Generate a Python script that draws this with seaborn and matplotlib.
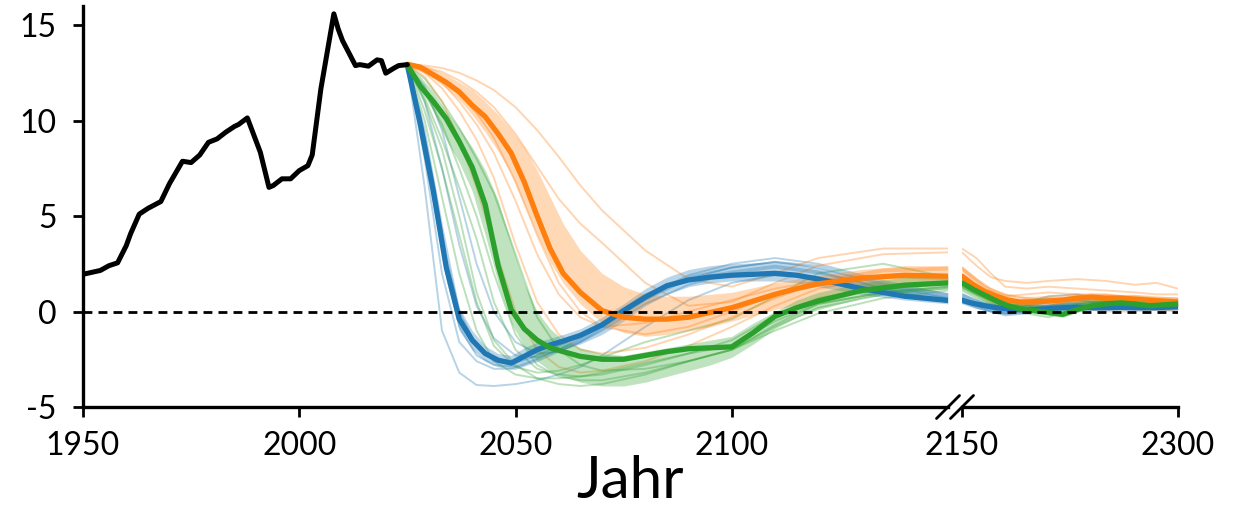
import matplotlib
matplotlib.use("Agg")
import matplotlib.pyplot as plt
import seaborn as sns

# ---------------- data ----------------
hist_years = [1950, 1954, 1956, 1958, 1960, 1961, 1963, 1965, 1968, 1970, 1973, 1975, 1977,
              1979, 1981, 1983, 1985, 1986, 1988, 1991, 1993, 1994, 1996, 1998, 2000, 2002,
              2003, 2005, 2008, 2009, 2010, 2013, 2014, 2016, 2018, 2019, 2020, 2022, 2023, 2025]
hist_vals = [1.95, 2.15, 2.4, 2.55, 3.45, 4.07, 5.1, 5.4, 5.76, 6.7, 7.87, 7.8, 8.2,
             8.86, 9.04, 9.39, 9.69, 9.8, 10.14, 8.34, 6.5, 6.6, 6.95, 6.95, 7.38, 7.64,
             8.2, 11.66, 15.59, 14.8, 14.19, 12.88, 12.93, 12.85, 13.18, 13.14, 12.48, 12.76, 12.88, 12.93]

# scenario grid (left panel)
years_L = [2025, 2028, 2031, 2034, 2037, 2040, 2043, 2046, 2049, 2052, 2055, 2058, 2061, 2065,
           2070, 2075, 2080, 2085, 2090, 2095, 2100, 2105, 2110, 2115, 2120, 2130, 2140, 2150]

blue_mid = [12.9, 9.8, 6.3, 2.3, -0.4, -1.5, -2.2, -2.55, -2.7, -2.35, -2.0, -1.75, -1.55, -1.25,
            -0.7, 0.05, 0.75, 1.35, 1.65, 1.8, 1.9, 1.95, 2.0, 1.9, 1.7, 1.2, 0.8, 0.58]
blue_lo = [12.9, 9.0, 5.5, 1.6, -1.0, -2.0, -2.6, -2.9, -3.0, -2.8, -2.5, -2.2, -2.0, -1.7,
           -1.2, -0.5, 0.3, 0.9, 1.3, 1.5, 1.6, 1.6, 1.6, 1.5, 1.3, 0.9, 0.6, 0.4]
blue_hi = [12.9, 10.5, 7.0, 3.0, 0.2, -1.0, -1.8, -2.2, -2.3, -1.9, -1.6, -1.4, -1.2, -0.9,
           -0.3, 0.4, 1.2, 1.8, 2.2, 2.4, 2.5, 2.55, 2.6, 2.5, 2.3, 1.8, 1.3, 1.0]

orange_mid = [12.95, 12.8, 12.4, 12.0, 11.5, 10.8, 10.2, 9.3, 8.3, 6.8, 5.0, 3.3, 2.0, 1.0,
              0.05, -0.3, -0.4, -0.4, -0.3, -0.05, 0.2, 0.55, 0.9, 1.2, 1.45, 1.75, 1.9, 1.85]
orange_lo = [12.9, 12.6, 12.2, 11.7, 11.1, 10.3, 9.4, 8.4, 7.2, 5.6, 4.0, 2.6, 1.5, 0.4,
             -0.6, -1.1, -1.3, -1.2, -1.0, -0.8, -0.5, -0.2, 0.1, 0.35, 0.6, 1.0, 1.3, 1.4]
orange_hi = [13.0, 12.9, 12.7, 12.4, 12.0, 11.6, 11.0, 10.3, 9.5, 8.6, 7.4, 6.0, 4.6, 3.2,
             2.0, 1.3, 0.9, 0.8, 0.8, 0.9, 1.0, 1.25, 1.5, 1.7, 1.9, 2.2, 2.4, 2.4]

green_mid = [12.9, 11.8, 11.0, 10.1, 8.9, 7.55, 5.6, 2.4, 0.1, -0.9, -1.5, -1.9, -2.1, -2.35,
             -2.5, -2.5, -2.3, -2.1, -1.95, -1.9, -1.85, -1.1, -0.25, 0.2, 0.55, 1.1, 1.38, 1.5]
green_lo = [12.9, 11.7, 10.5, 9.0, 7.8, 6.3, 4.0, 1.5, -0.6, -1.8, -2.6, -3.1, -3.4, -3.7,
            -3.9, -3.9, -3.7, -3.4, -3.1, -2.8, -2.4, -1.7, -0.9, -0.3, 0.1, 0.7, 1.0, 1.2]
green_hi = [12.9, 12.3, 11.5, 10.5, 9.6, 8.6, 7.4, 5.8, 3.6, 1.5, 0.0, -0.9, -1.5, -1.9,
            -2.2, -2.3, -2.1, -1.9, -1.7, -1.5, -1.3, -0.6, 0.0, 0.6, 1.0, 1.5, 1.8, 1.9]

# individual runs (left panel)
years_T = [2025, 2029, 2033, 2037, 2041, 2045, 2050, 2055, 2060, 2065, 2070, 2080, 2090, 2100,
           2110, 2120, 2135, 2150]
blue_runs = [
    [12.9, 6.5, -1.0, -3.2, -3.85, -3.9, -3.8, -3.6, -3.3, -2.9, -2.3, -0.8, 0.6, 1.5, 1.9, 1.8, 1.2, 0.6],
    [12.9, 8.0, 2.0, -1.6, -2.6, -3.0, -3.0, -2.6, -2.1, -1.6, -1.0, 0.4, 1.4, 2.0, 2.3, 2.0, 1.3, 0.7],
    [12.9, 9.5, 4.5, 0.0, -1.8, -2.6, -2.7, -2.3, -1.8, -1.3, -0.7, 0.7, 1.8, 2.3, 2.6, 2.4, 1.5, 0.8],
    [12.9, 11.0, 7.5, 3.5, 0.3, -1.4, -2.3, -2.4, -2.0, -1.5, -0.8, 0.8, 1.9, 2.5, 2.8, 2.5, 1.6, 0.9],
    [12.9, 11.8, 9.5, 6.0, 2.5, 0.0, -1.6, -2.2, -2.1, -1.6, -0.9, 0.6, 1.7, 2.3, 2.6, 2.3, 1.4, 0.7],
    [12.9, 9.0, 3.5, -0.8, -2.3, -2.8, -2.9, -2.5, -2.0, -1.4, -0.6, 0.9, 1.7, 2.1, 2.4, 2.1, 1.2, 0.5],
]
green_runs = [
    [12.9, 10.0, 6.0, 2.0, -1.0, -2.6, -3.3, -3.5, -3.5, -3.4, -3.2, -2.7, -2.2, -1.8, -0.5, 0.4, 1.0, 1.3],
    [12.9, 11.0, 8.5, 5.0, 1.0, -1.5, -2.8, -3.5, -3.8, -3.9, -3.8, -3.3, -2.6, -2.0, -0.8, 0.2, 0.9, 1.2],
    [12.9, 11.5, 9.8, 7.5, 5.0, 2.0, -1.2, -2.8, -3.4, -3.6, -3.6, -3.2, -2.6, -2.0, -1.0, -0.1, 0.7, 1.1],
    [12.9, 12.2, 11.0, 9.6, 8.0, 6.2, 3.0, -0.3, -2.0, -2.8, -3.1, -3.0, -2.6, -2.0, -0.7, 0.4, 1.0, 1.3],
    [12.9, 11.2, 9.0, 6.5, 3.8, 0.5, -2.0, -3.0, -3.3, -3.4, -3.3, -2.8, -2.2, -1.5, -0.2, 0.7, 1.3, 1.5],
    [12.9, 10.5, 7.5, 4.0, 0.5, -1.8, -2.9, -3.2, -3.1, -2.8, -2.4, -1.6, -1.0, -0.4, 0.8, 2.0, 2.5, 1.8],
]
orange_runs = [
    [12.9, 12.3, 11.0, 9.0, 6.5, 3.5, 0.0, -2.0, -2.9, -3.2, -3.1, -2.6, -1.8, -0.8, 0.3, 1.2, 1.8, 1.9],
    [12.9, 12.5, 11.7, 10.5, 9.0, 7.0, 3.5, 0.5, -1.2, -2.0, -2.2, -1.9, -1.2, -0.3, 0.7, 1.5, 2.1, 2.2],
    [12.9, 12.7, 12.2, 11.4, 10.4, 9.1, 6.8, 4.0, 1.5, 0.0, -0.8, -1.2, -0.8, 0.0, 0.9, 1.6, 2.2, 2.3],
    [12.9, 12.8, 12.55, 12.1, 11.5, 10.7, 9.3, 7.6, 5.9, 4.6, 3.6, 1.5, 0.3, 0.5, 1.5, 2.4, 3.0, 3.1],
    [12.9, 12.88, 12.75, 12.5, 12.1, 11.6, 10.7, 9.5, 8.1, 6.6, 5.3, 3.2, 1.7, 1.3, 2.0, 2.8, 3.3, 3.3],
    [12.9, 12.6, 12.0, 11.0, 9.8, 8.3, 5.8, 3.0, 0.9, -0.3, -0.8, -0.6, 0.0, 0.6, 1.2, 1.6, 1.8, 1.7],
]

# right panel (2150-2300)
years_R = [2150, 2158, 2166, 2174, 2182, 2190, 2200, 2210, 2220, 2230, 2240, 2250, 2260, 2270,
           2280, 2290, 2300]
blue_mid_R = [0.58, 0.42, 0.3, 0.2, 0.13, 0.1, 0.1, 0.15, 0.2, 0.22, 0.2, 0.2, 0.22, 0.2, 0.2, 0.22, 0.25]
blue_lo_R = [0.4, 0.2, 0.05, -0.1, -0.15, -0.1, -0.05, 0.0, 0.05, 0.05, 0.05, 0.05, 0.05, 0.05, 0.05, 0.05, 0.1]
blue_hi_R = [1.0, 0.7, 0.5, 0.4, 0.35, 0.4, 0.45, 0.5, 0.5, 0.5, 0.45, 0.4, 0.4, 0.4, 0.4, 0.4, 0.4]
orange_mid_R = [1.85, 1.4, 1.05, 0.8, 0.6, 0.5, 0.5, 0.55, 0.6, 0.7, 0.75, 0.7, 0.7, 0.65, 0.6, 0.55, 0.5]
orange_lo_R = [1.4, 1.0, 0.7, 0.5, 0.35, 0.3, 0.3, 0.35, 0.4, 0.45, 0.5, 0.45, 0.45, 0.4, 0.4, 0.35, 0.3]
orange_hi_R = [2.4, 1.9, 1.4, 1.1, 0.9, 0.8, 0.8, 0.85, 0.9, 0.95, 1.0, 0.95, 0.9, 0.9, 0.85, 0.8, 0.75]
green_mid_R = [1.5, 1.15, 0.85, 0.55, 0.3, 0.15, 0.05, -0.05, -0.15, 0.1, 0.3, 0.4, 0.45, 0.4, 0.3, 0.35, 0.4]
green_lo_R = [1.2, 0.9, 0.6, 0.35, 0.15, 0.0, -0.1, -0.2, -0.3, -0.05, 0.15, 0.25, 0.3, 0.25, 0.2, 0.2, 0.25]
green_hi_R = [1.9, 1.4, 1.1, 0.8, 0.55, 0.45, 0.4, 0.35, 0.35, 0.45, 0.55, 0.6, 0.65, 0.6, 0.55, 0.55, 0.6]

years_T2 = [2150, 2160, 2170, 2180, 2195, 2210, 2230, 2250, 2270, 2285, 2300]
blue_runs_R = [
    [0.6, 0.3, 0.0, -0.2, -0.1, 0.2, 0.4, 0.3, 0.3, 0.2, 0.2],
    [0.7, 0.4, 0.1, 0.0, 0.3, 0.5, 0.6, 0.4, 0.3, 0.3, 0.3],
    [0.8, 0.5, 0.3, 0.1, 0.2, 0.3, 0.5, 0.5, 0.4, 0.4, 0.3],
    [0.9, 0.6, 0.3, 0.2, 0.5, 0.8, 0.9, 0.6, 0.4, 0.3, 0.4],
    [0.7, 0.4, 0.2, -0.1, 0.0, 0.3, 0.4, 0.5, 0.3, 0.3, 0.2],
    [0.5, 0.2, 0.0, -0.1, 0.1, 0.2, 0.3, 0.2, 0.2, 0.1, 0.1],
]
green_runs_R = [
    [1.3, 0.9, 0.5, 0.2, 0.0, -0.1, 0.3, 0.5, 0.4, 0.3, 0.4],
    [1.2, 0.8, 0.4, 0.1, -0.1, -0.3, 0.2, 0.4, 0.3, 0.3, 0.4],
    [1.1, 0.7, 0.4, 0.2, 0.1, 0.0, 0.4, 0.6, 0.5, 0.4, 0.5],
    [1.3, 0.9, 0.6, 0.4, 0.6, 0.7, 0.6, 0.5, 0.5, 0.4, 0.5],
    [1.5, 1.0, 0.6, 0.3, 0.3, 0.2, 0.5, 0.6, 0.5, 0.5, 0.6],
    [1.8, 1.2, 0.7, 0.4, 0.3, 0.3, 0.6, 0.7, 0.6, 0.5, 0.6],
]
orange_runs_R = [
    [1.9, 1.3, 0.9, 0.6, 0.5, 0.6, 0.7, 0.6, 0.6, 0.5, 0.5],
    [2.2, 1.6, 1.1, 0.8, 0.9, 1.0, 0.9, 0.8, 0.8, 0.7, 0.7],
    [2.3, 1.7, 1.2, 0.9, 0.7, 0.6, 0.8, 0.9, 0.7, 0.6, 0.6],
    [3.1, 2.4, 1.8, 1.6, 1.5, 1.6, 1.7, 1.6, 1.4, 1.5, 1.2],
    [3.3, 2.8, 2.0, 1.3, 1.2, 1.3, 1.2, 1.1, 1.0, 0.9, 0.9],
    [1.7, 1.0, 0.5, 0.2, 0.1, 0.1, 0.2, 0.0, 0.0, 0.1, 0.0],
]

x_ticks_L = [1950, 2000, 2050, 2100]
x_ticks_R = [2150, 2300]
y_ticks = [-5, 0, 5, 10, 15]
x_label = "Jahr"

# ---------------- style ----------------
sns.set_theme(style="ticks")
plt.rcParams["font.family"] = ["Lato", "DejaVu Sans"]
plt.rcParams["axes.unicode_minus"] = False
plt.rcParams["text.color"] = "black"

BLUE, ORANGE, GREEN = "#1f77b4", "#ff7f0e", "#2ca02c"

fig = plt.figure(figsize=(12.36, 5.12), dpi=100)
W, H = 1236, 512
axL = fig.add_axes([83 / W, 105 / H, 865 / W, 401 / H])
axR = fig.add_axes([962 / W, 105 / H, 216 / W, 401 / H])

def draw(ax, yrs_t, runs_list, yrs_m, mids, los, his):
    for runs, c in zip(runs_list, [BLUE, GREEN, ORANGE]):
        for r in runs:
            sns.lineplot(x=yrs_t, y=r, ax=ax, color=c, lw=1.4, alpha=0.32, zorder=2)
    for lo, hi, c in zip(los, his, [BLUE, ORANGE, GREEN]):
        ax.fill_between(yrs_m, lo, hi, color=c, alpha=0.3, lw=0, zorder=3)
    for m, c in zip(mids, [BLUE, ORANGE, GREEN]):
        sns.lineplot(x=yrs_m, y=m, ax=ax, color=c, lw=3.8, zorder=5)

draw(axL, years_T, [blue_runs, green_runs, orange_runs], years_L,
     [blue_mid, orange_mid, green_mid], [blue_lo, orange_lo, green_lo], [blue_hi, orange_hi, green_hi])
draw(axR, years_T2, [blue_runs_R, green_runs_R, orange_runs_R], years_R,
     [blue_mid_R, orange_mid_R, green_mid_R], [blue_lo_R, orange_lo_R, green_lo_R],
     [blue_hi_R, orange_hi_R, green_hi_R])

sns.lineplot(x=hist_years, y=hist_vals, ax=axL, color="black", lw=3.6, zorder=6)

for ax in (axL, axR):
    ax.axhline(0, color="black", ls=(0, (3.2, 2.2)), lw=2.0, zorder=7)
    ax.set_ylim(-5, 16)
    ax.spines["top"].set_visible(False)
    ax.spines["right"].set_visible(False)
    ax.spines["bottom"].set_linewidth(2.4)
    ax.spines["left"].set_linewidth(2.4)
    ax.spines["bottom"].set_color("black")
    ax.spines["left"].set_color("black")
    ax.tick_params(axis="x", length=7, width=2, labelsize=23, colors="black", pad=10)
    ax.tick_params(axis="y", length=7, width=2, labelsize=23, colors="black", pad=12)
    ax.set_xlabel("")
    ax.set_ylabel("")

axL.set_xlim(1950, 2150)
axL.set_xticks(x_ticks_L)
axL.set_yticks(y_ticks)
axL.set_yticklabels([str(v) for v in y_ticks])

axR.set_xlim(2150, 2300)
axR.set_xticks(x_ticks_R)
axR.spines["left"].set_visible(False)
axR.set_yticks([])

# break marks
dxL, dy = 11.5 / 865, 11.5 / 401
axL.plot([1 - dxL, 1 + dxL], [-dy, dy], transform=axL.transAxes, color="black", lw=2, clip_on=False)
dxR = 11.5 / 216
axR.plot([-dxR, dxR], [-dy, dy], transform=axR.transAxes, color="black", lw=2, clip_on=False)

fig.text(630 / W, (512 - 498) / H, x_label, ha="center", va="baseline", fontsize=42, color="black")

fig.savefig("out.png", dpi=100)
